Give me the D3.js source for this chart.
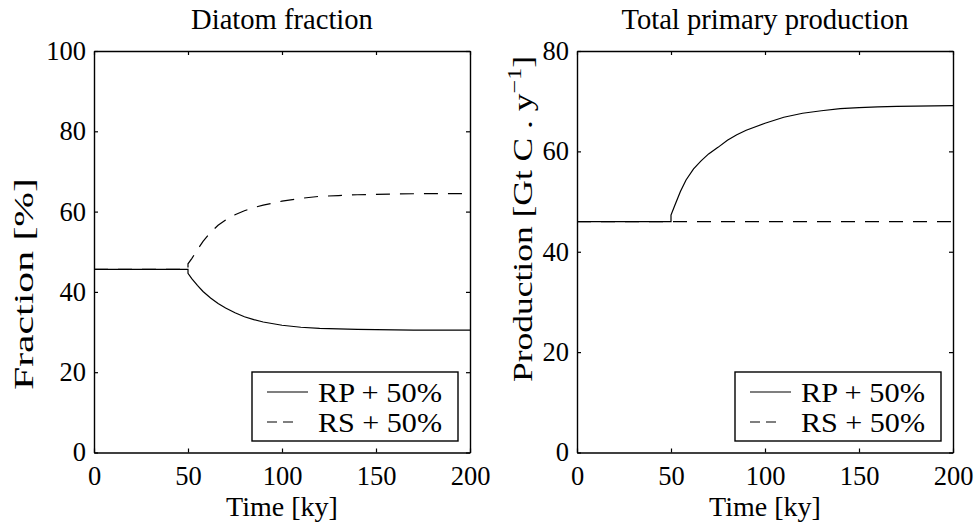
<!DOCTYPE html>
<html>
<head>
<meta charset="utf-8">
<script src="https://cdn.jsdelivr.net/npm/d3@7/dist/d3.min.js"></script>
<style>
  body { margin: 0; background: #fff; }
  svg { display: block; font-family: 'Liberation Serif', 'Times New Roman', serif; }
</style>
</head>
<body>
<svg id="chart"></svg>
<script>
// time [ky] -- 50 is listed twice, that is the step when the forcing starts
const timeKy = [0, 50, 50, 52, 55, 58, 62, 66, 70, 75, 80, 85, 90, 100, 110, 120, 130, 140, 150, 160, 170, 180, 190, 200]

// diatom fraction [%]
const fractionRP = [45.6, 45.6, 44.6, 43.3, 41.6, 40.1, 38.5, 37.1, 36.0, 34.8, 33.8, 33.1, 32.5, 31.7, 31.2, 30.9, 30.8, 30.65, 30.6, 30.55, 30.5, 30.5, 30.5, 30.5]
const fractionRS = [45.6, 45.6, 47.0, 48.3, 50.5, 52.6, 54.8, 56.6, 57.9, 59.2, 60.2, 61.0, 61.6, 62.6, 63.3, 63.8, 64.0, 64.2, 64.3, 64.4, 64.45, 64.5, 64.5, 64.5]

// total primary production [Gt C / y]
const productionRP = [46.0, 46.0, 47.3, 49.2, 52.0, 54.3, 56.5, 58.1, 59.5, 60.8, 62.2, 63.3, 64.2, 65.6, 66.8, 67.6, 68.1, 68.5, 68.7, 68.85, 68.95, 69.0, 69.05, 69.1]
const productionRSTime = [0, 200]
const productionRS = [46.0, 46.0]

const xTicks = [0, 50, 100, 150, 200]
const fractionTicks = [0, 20, 40, 60, 80, 100]
const productionTicks = [0, 20, 40, 60, 80]
const legendLabels = ['RP + 50%', 'RS + 50%']

const width = 976
const height = 525
const plotTop = 51
const plotBottom = 452.5
const dash = '14,10'

const svg = d3.select('#chart').attr('width', width).attr('height', height)

const panels = [
  {
    left: 94, right: 470,
    title: 'Diatom fraction',
    yDomain: [0, 100], yTicks: fractionTicks,
    series: [
      { t: timeKy, v: fractionRS, dashed: true },
      { t: timeKy, v: fractionRP, dashed: false },
    ],
    legendX: 252,
    ylabelX: 33, ylabelY: 284, ylabelLen: 212,
  },
  {
    left: 577, right: 953,
    title: 'Total primary production',
    yDomain: [0, 80], yTicks: productionTicks,
    series: [
      { t: productionRSTime, v: productionRS, dashed: true },
      { t: timeKy, v: productionRP, dashed: false },
    ],
    legendX: 735,
    ylabelX: 532, ylabelY: 219, ylabelLen: 326,
  },
]

const styleAxis = (sel) => {
  sel.attr('font-size', null).attr('font-family', null)
  sel.select('.domain').attr('stroke', '#000').attr('stroke-width', 1.4)
  sel.selectAll('.tick line').attr('stroke', '#000').attr('stroke-width', 1.2)
  sel.selectAll('.tick text').attr('fill', '#000').style('font-size', '26.5px')
}

const drawPanel = (p, i) => {
  const x = d3.scaleLinear().domain([0, 200]).range([p.left, p.right])
  const y = d3.scaleLinear().domain(p.yDomain).range([plotBottom, plotTop])
  const g = svg.append('g')

  // title
  g.append('text')
    .attr('x', (p.left + p.right) / 2)
    .attr('y', 29)
    .attr('text-anchor', 'middle')
    .style('font-size', '28.6px')
    .text(p.title)

  // curves (dashed first so the solid one sits on top where they overlap)
  const line = d3.line().x((d) => x(d[0])).y((d) => y(d[1]))
  p.series.forEach((s) => {
    g.append('path')
      .datum(s.t.map((t, k) => [t, s.v[k]]))
      .attr('d', line)
      .attr('fill', 'none')
      .attr('stroke', '#000')
      .attr('stroke-width', 1.2)
      .attr('stroke-dasharray', s.dashed ? dash : null)
  })

  // box with inward ticks on all four sides
  g.append('g')
    .attr('transform', `translate(0,${plotBottom})`)
    .call(d3.axisBottom(x).tickValues(xTicks).tickSize(-4).tickSizeOuter(0).tickPadding(14))
    .call(styleAxis)
  g.append('g')
    .attr('transform', `translate(0,${plotTop})`)
    .call(d3.axisTop(x).tickValues(xTicks).tickSize(-4).tickSizeOuter(0).tickFormat(''))
    .call(styleAxis)
  g.append('g')
    .attr('transform', `translate(${p.left},0)`)
    .call(d3.axisLeft(y).tickValues(p.yTicks).tickSize(-4).tickSizeOuter(0).tickPadding(8))
    .call(styleAxis)
  g.append('g')
    .attr('transform', `translate(${p.right},0)`)
    .call(d3.axisRight(y).tickValues(p.yTicks).tickSize(-4).tickSizeOuter(0).tickFormat(''))
    .call(styleAxis)

  // x label
  g.append('text')
    .attr('x', (p.left + p.right) / 2)
    .attr('y', 516)
    .attr('text-anchor', 'middle')
    .style('font-size', '28px')
    .text('Time [ky]')

  // y label, stretched along its length like the exported original
  const yl = g.append('text')
    .attr('transform', `translate(${p.ylabelX},${p.ylabelY}) rotate(-90)`)
    .attr('text-anchor', 'middle')
    .attr('textLength', p.ylabelLen)
    .attr('lengthAdjust', 'spacingAndGlyphs')
    .style('font-size', '28px')
  if (i === 0) {
    yl.text('Fraction [%]')
  } else {
    yl.append('tspan').text('Production [Gt C . y')
    yl.append('tspan').attr('dy', -11).style('font-size', '19px').text('\u22121')
    yl.append('tspan').attr('dy', 11).text(']')
  }

  // legend
  const lg = g.append('g').attr('transform', `translate(${p.legendX},372)`)
  lg.append('rect')
    .attr('width', 206)
    .attr('height', 69)
    .attr('fill', '#fff')
    .attr('stroke', '#000')
    .attr('stroke-width', 1.4)
  legendLabels.forEach((label, k) => {
    const cy = 20 + k * 30
    lg.append('line')
      .attr('x1', 15)
      .attr('x2', k === 0 ? 56 : 41)
      .attr('y1', cy)
      .attr('y2', cy)
      .attr('stroke', '#000')
      .attr('stroke-width', 1.2)
      .attr('stroke-dasharray', k === 0 ? null : '10,6')
    lg.append('text')
      .attr('x', 66)
      .attr('y', cy)
      .attr('dy', '0.35em')
      .attr('textLength', 124)
      .attr('lengthAdjust', 'spacingAndGlyphs')
      .style('font-size', '28px')
      .text(label)
  })
}

panels.forEach(drawPanel)
</script>
</body>
</html>
